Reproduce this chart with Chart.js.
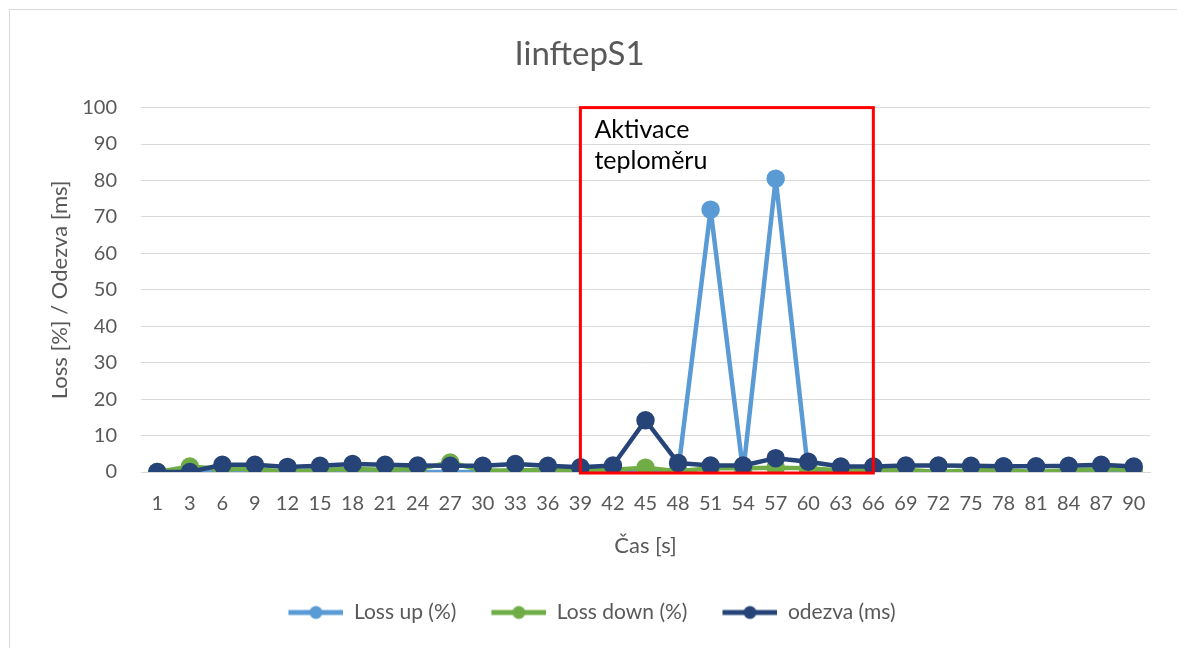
<!DOCTYPE html>
<html>
<head>
<meta charset="utf-8">
<script src="https://cdn.jsdelivr.net/npm/chart.js@4/dist/chart.umd.min.js"></script>
<style>
  html, body { margin: 0; padding: 0; background: #fff; }
  #wrap { position: relative; width: 1177px; height: 648px; }
  #frame { position: absolute; left: 9px; top: 9px; width: 1170px; height: 650px; border: 1px solid #d9d9d9; box-sizing: border-box; }
  canvas { position: absolute; left: 0; top: 0; }
</style>
</head>
<body>
<div id="wrap">
  <div id="frame"></div>
  <canvas id="chart" width="1177" height="648"></canvas>
</div>
<script>
// data
const casLabels = ['1','3','6','9','12','15','18','21','24','27','30','33','36','39','42','45','48','51','54','57','60','63','66','69','72','75','78','81','84','87','90'];
const lossUp   = [0,0,0,0,0,0,0,0,0,0,0,0,0,0,0,0,0,72,0,80.5,0,0,0,0,0,0,0,0,0,0,0];
const lossDown = [0,1.5,0.8,0.8,0,0.6,0.8,0.6,0.8,2.6,0.4,0.4,0.6,0.4,0.6,1.2,0.2,1.0,1.0,1.2,1.0,0.4,0.4,0.6,0,0.5,0.5,0,0.5,0.8,0.6];
const odezva   = [0,0,2.0,2.0,1.4,1.7,2.2,2.0,1.8,1.7,1.7,2.2,1.7,1.3,1.8,14.2,2.5,1.8,1.8,3.8,2.8,1.5,1.5,1.8,1.8,1.7,1.6,1.6,1.7,2.0,1.5];
const yTicks = [0,10,20,30,40,50,60,70,80,90,100];
// oblast "Aktivace teploměru": od kategorie 39 (index 13) do 66 (index 22)
const boxFrom = 13, boxTo = 22;

const FONT = 'Lato, "Open Sans", sans-serif';
const GREY = '#595959';

// ikonka do legendy: čára s kolečkem, vlevo průhledný okraj jako mezera
function legendIcon(color) {
    const c = document.createElement('canvas');
    c.width = 80; c.height = 16;
    const g = c.getContext('2d');
    g.strokeStyle = color; g.lineWidth = 5;
    g.beginPath(); g.moveTo(25, 8); g.lineTo(80, 8); g.stroke();
    g.fillStyle = color;
    g.beginPath(); g.arc(52.5, 8, 6.5, 0, Math.PI * 2); g.fill();
    return c;
}

const boxPlugin = {
    id: 'aktivace',
    afterDatasetsDraw(chart) {
        const x = chart.scales.x, y = chart.scales.y, ctx = chart.ctx;
        const x1 = x.getPixelForValue(boxFrom), x2 = x.getPixelForValue(boxTo);
        const y1 = y.getPixelForValue(100), y2 = y.getPixelForValue(0);
        ctx.save();
        ctx.strokeStyle = '#ff0000';
        ctx.lineWidth = 3;
        ctx.strokeRect(x1, y1, x2 - x1, y2 - y1 + 1);
        ctx.fillStyle = '#000';
        ctx.font = '25px ' + FONT;
        ctx.textBaseline = 'middle';
        ctx.fillText('Aktivace', x1 + 14, y1 + 22);
        ctx.fillText('teploměru', x1 + 14, y1 + 53);
        ctx.restore();
    }
};

function ds(label, data, color, order) {
    return {
        label: label,
        data: data,
        borderColor: color,
        backgroundColor: color,
        pointBackgroundColor: color,
        pointBorderColor: color,
        borderWidth: 4.5,
        borderJoinStyle: 'round',
        pointRadius: 7,
        pointHoverRadius: 7,
        tension: 0,
        order: order,
        icon: legendIcon(color)
    };
}

const ctx = document.getElementById('chart').getContext('2d');
const chart = new Chart(ctx, {
    type: 'line',
    data: {
        labels: casLabels,
        datasets: [
            ds('Loss up (%)', lossUp, '#5b9bd5', 3),
            ds('Loss down (%)', lossDown, '#70ad47', 2),
            ds('odezva (ms)', odezva, '#264478', 1)
        ]
    },
    options: {
        responsive: false,
        animation: false,
        layout: { padding: { left: 9, right: 27, top: 9, bottom: 15 } },
        scales: {
            x: {
                offset: true,
                afterFit(scale) { scale.height = 120; },
                grid: { display: false, drawTicks: false },
                border: { color: '#d9d9d9', width: 1 },
                ticks: { color: GREY, font: { family: FONT, size: 20 }, autoSkip: false, maxRotation: 0, padding: 20 },
                title: { display: true, text: 'Čas [s]', color: GREY, font: { family: FONT, size: 22 }, padding: { top: 0, bottom: 33 } }
            },
            y: {
                min: 0, max: 100,
                afterFit(scale) { scale.width = 132; },
                afterBuildTicks(scale) { scale.ticks = yTicks.map(v => ({ value: v })); },
                grid: { color: '#d9d9d9', lineWidth: 1, drawTicks: false },
                border: { display: false },
                ticks: { color: GREY, font: { family: FONT, size: 20 }, padding: 24 },
                title: { display: true, text: 'Loss [%] / Odezva [ms]', color: GREY, font: { family: FONT, size: 22 }, padding: { top: 38, bottom: 0 } }
            }
        },
        plugins: {
            title: {
                display: true,
                text: 'IinftepS1',
                color: GREY,
                font: { family: FONT, size: 33, weight: 'normal' },
                padding: { top: 26, bottom: 33 }
            },
            legend: {
                position: 'bottom',
                labels: {
                    usePointStyle: true,
                    pointStyleWidth: 80,
                    color: GREY,
                    font: { family: FONT, size: 21 },
                    padding: 10,
                    generateLabels(chart) {
                        return chart.data.datasets.map((d, i) => ({
                            text: d.label,
                            pointStyle: d.icon,
                            fillStyle: d.borderColor,
                            strokeStyle: d.borderColor,
                            lineWidth: 0,
                            fontColor: GREY,
                            hidden: false,
                            datasetIndex: i
                        }));
                    }
                }
            },
            tooltip: { enabled: false }
        }
    },
    plugins: [boxPlugin]
});
</script>
</body>
</html>
